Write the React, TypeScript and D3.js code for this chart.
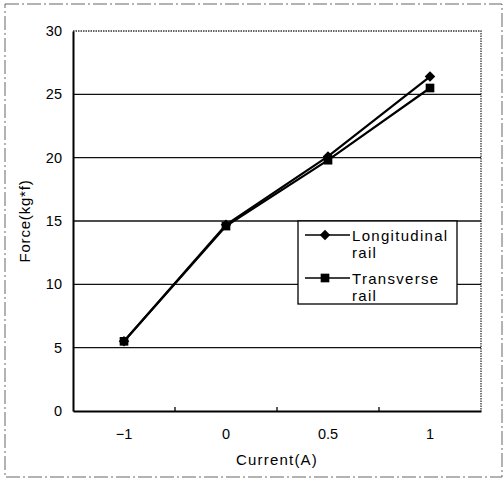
import { useRef, useEffect } from 'react';
import * as d3 from 'd3';

const categories = ['−1', '0', '0.5', '1'];
const longitudinal = [5.5, 14.7, 20.1, 26.4];
const transverse = [5.5, 14.6, 19.8, 25.5];
const yTicks = [0, 5, 10, 15, 20, 25, 30];
const seriesNames = [['Longitudinal', 'rail'], ['Transverse', 'rail']];

const App = () => {
  const ref = useRef<SVGSVGElement>(null);

  useEffect(() => {
    const svg = d3.select(ref.current);
    svg.selectAll('*').remove();
    const W = 503, H = 480;
    const margin = { top: 31, right: 22, bottom: 69, left: 73 };
    const width = W - margin.left - margin.right;
    const height = H - margin.top - margin.bottom;
    const font = 'Liberation Sans, Arial, sans-serif';

    svg.attr('width', W).attr('height', H).style('position', 'absolute').style('left', 0).style('top', 0);

    svg.append('rect').attr('width', W).attr('height', H).attr('fill', '#fff');
    // outer dashed frame
    svg.append('rect')
      .attr('x', 5).attr('y', 4).attr('width', W - 6).attr('height', H - 7)
      .attr('fill', 'none').attr('stroke', '#666').attr('stroke-width', 1)
      .attr('stroke-dasharray', '14,3,2,3');

    const g = svg.append('g').attr('transform', `translate(${margin.left},${margin.top})`);

    const x = d3.scaleBand().domain(categories).range([0, width]);
    const y = d3.scaleLinear().domain([0, 30]).range([height, 0]);

    // gridlines
    g.selectAll('.grid')
      .data(yTicks.filter(d => d > 0 && d < 30))
      .enter().append('line')
      .attr('x1', 0).attr('x2', width)
      .attr('y1', d => y(d)).attr('y2', d => y(d))
      .attr('stroke', '#111').attr('stroke-width', 1.3);

    // top and right dotted border
    g.append('path')
      .attr('d', `M0,0H${width}V${height}`)
      .attr('fill', 'none').attr('stroke', '#333').attr('stroke-width', 1.3)
      .attr('stroke-dasharray', '1.5,1');

    // y axis
    const yAxis = g.append('g').call(d3.axisLeft(y).tickValues(yTicks).tickSize(0).tickPadding(11));
    yAxis.select('.domain').attr('stroke', '#000').attr('stroke-width', 2);
    yAxis.selectAll('text').attr('font-family', font).attr('font-size', 14.5).attr('fill', '#000');

    // x axis
    const xAxis = g.append('g').attr('transform', `translate(0,${height})`)
      .call(d3.axisBottom(x).tickSize(0).tickPadding(18));
    xAxis.select('.domain').attr('stroke', '#000').attr('stroke-width', 2);
    xAxis.selectAll('text').attr('font-family', font).attr('font-size', 14.5).attr('fill', '#000');
    // ticks between categories
    g.selectAll('.xtick')
      .data(categories.slice(1))
      .enter().append('line')
      .attr('x1', d => x(d)!).attr('x2', d => x(d)!)
      .attr('y1', height).attr('y2', height - 4)
      .attr('stroke', '#000').attr('stroke-width', 1.3);

    const cx = (d: string) => x(d)! + x.bandwidth() / 2;
    const line = d3.line<number>().x((_, i) => cx(categories[i])).y(d => y(d));

    g.append('path').attr('d', line(transverse)).attr('fill', 'none')
      .attr('stroke', '#000').attr('stroke-width', 2.2);
    g.append('path').attr('d', line(longitudinal)).attr('fill', 'none')
      .attr('stroke', '#000').attr('stroke-width', 2.2);

    const diamond = d3.symbol().type(d3.symbolDiamond2).size(70);
    const square = d3.symbol().type(d3.symbolSquare).size(75);

    g.selectAll('.dia').data(longitudinal).enter().append('path')
      .attr('d', diamond)
      .attr('transform', (d, i) => `translate(${cx(categories[i])},${y(d)})`)
      .attr('fill', '#000');
    g.selectAll('.sq').data(transverse).enter().append('path')
      .attr('d', square)
      .attr('transform', (d, i) => `translate(${cx(categories[i])},${y(d)})`)
      .attr('fill', '#000');

    // legend
    const lg = svg.append('g').attr('transform', 'translate(298,221)');
    lg.append('rect').attr('width', 159).attr('height', 83)
      .attr('fill', '#fff').attr('stroke', '#000').attr('stroke-width', 1.3);
    const markers = [diamond, square];
    seriesNames.forEach((names, i) => {
      const yy = 14 + i * 43;
      lg.append('line').attr('x1', 7).attr('x2', 52).attr('y1', yy).attr('y2', yy)
        .attr('stroke', '#000').attr('stroke-width', 1.5);
      lg.append('path').attr('d', markers[i]).attr('transform', `translate(27,${yy})`).attr('fill', '#000');
      names.forEach((t, j) => {
        lg.append('text').attr('x', 54).attr('y', yy + 6 + j * 17)
          .attr('font-family', font).attr('font-size', 15).attr('letter-spacing', 1.3)
          .attr('fill', '#000').text(t);
      });
    });

    // axis titles
    svg.append('text').attr('x', margin.left + width / 2).attr('y', 465)
      .attr('text-anchor', 'middle').attr('font-family', font).attr('font-size', 15)
      .attr('letter-spacing', 1.2).text('Current(A)');
    svg.append('text').attr('transform', `translate(30,${margin.top + height / 2}) rotate(-90)`)
      .attr('text-anchor', 'middle').attr('font-family', font).attr('font-size', 15)
      .attr('letter-spacing', 0.8).text('Force(kg*f)');
  }, []);

  return <svg ref={ref}></svg>;
};

export default App;
